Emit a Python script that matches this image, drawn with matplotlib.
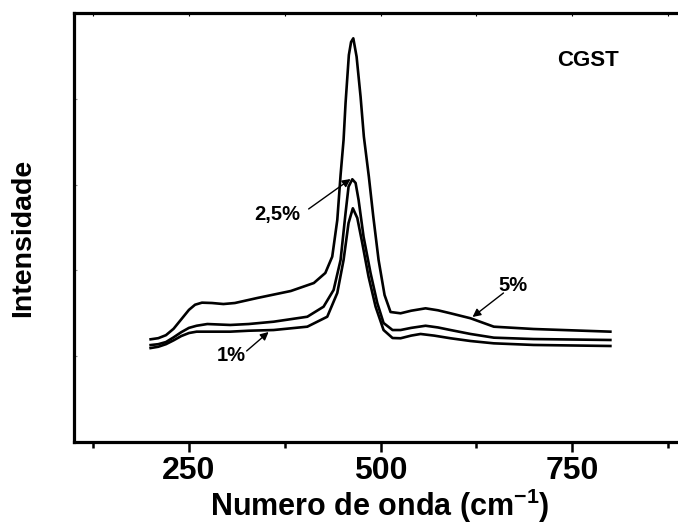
import matplotlib
matplotlib.use("Agg")
import matplotlib.pyplot as plt
from matplotlib import font_manager as fm

# ---------------- data ----------------
x_5 = [200, 210, 220, 230, 240, 250, 258, 267, 280, 295, 310, 339, 383, 413,
       428, 437, 443.6, 447.9, 451.8, 454.4, 458.7, 461.6, 464.5, 468.8, 474.0,
       478.3, 484.8, 490.6, 497.5, 505.3, 513.1, 526.2, 540, 558.8, 575, 591.4,
       617.5, 647.9, 699.7, 800]
y_5 = [1.197, 1.210, 1.245, 1.320, 1.430, 1.540, 1.600, 1.624, 1.620, 1.608,
       1.620, 1.678, 1.760, 1.853, 1.970, 2.160, 2.587, 3.112, 3.520, 3.951,
       4.510, 4.662, 4.705, 4.491, 4.024, 3.558, 3.092, 2.626, 2.121, 1.713,
       1.515, 1.500, 1.530, 1.558, 1.535, 1.500, 1.442, 1.344, 1.317, 1.286]

x_25 = [200, 210, 220, 230, 240, 250, 260, 274, 304, 328, 360.5, 404.5, 425.7,
        438.8, 447.9, 454.4, 458.3, 463.2, 467.5, 471.4, 477.9, 487.0, 495.8,
        504.0, 515.7, 526.2, 540, 558.8, 575, 591.4, 617.5, 647.9, 699.7, 800]
y_25 = [1.130, 1.140, 1.165, 1.220, 1.280, 1.330, 1.355, 1.375, 1.364, 1.375,
        1.402, 1.460, 1.577, 1.772, 2.121, 2.669, 2.976, 3.062, 3.019, 2.821,
        2.393, 1.970, 1.620, 1.387, 1.305, 1.305, 1.330, 1.355, 1.335, 1.305,
        1.259, 1.216, 1.200, 1.189]

x_1 = [200, 210, 220, 230, 240, 250, 260, 304, 328, 360.5, 404.5, 430.5, 443.6,
       451.8, 458.3, 463.9, 469.7, 476.2, 484.4, 493.6, 504.0, 515.7, 526.2,
       540, 552.3, 570, 591.4, 617.5, 647.8, 699.7, 800]
y_1 = [1.095, 1.110, 1.140, 1.185, 1.235, 1.270, 1.286, 1.286, 1.297, 1.305,
       1.344, 1.460, 1.737, 2.121, 2.552, 2.724, 2.611, 2.319, 1.927, 1.577,
       1.305, 1.212, 1.209, 1.240, 1.259, 1.240, 1.209, 1.177, 1.150, 1.131,
       1.119]

x_ticks = [250, 500, 750]
x_tick_labels = ["250", "500", "750"]

# ---------------- fonts ----------------
def has_font(name):
    try:
        fm.findfont(fm.FontProperties(family=name), fallback_to_default=False)
        return True
    except Exception:
        return False

if has_font("Liberation Sans Narrow"):
    NARROW, TICK_FS, XLAB_FS, ANN_FS = "Liberation Sans Narrow", 26, 25, 16
else:
    NARROW, TICK_FS, XLAB_FS, ANN_FS = "Liberation Sans", 23, 22, 14.5
WIDE = "Liberation Sans"

plt.rcParams["mathtext.fontset"] = "custom"
plt.rcParams["mathtext.rm"] = NARROW
plt.rcParams["mathtext.bf"] = NARROW + ":bold"

# ---------------- figure ----------------
fig = plt.figure(figsize=(6.78, 5.25), dpi=100)
ax = fig.add_axes([74 / 678, (525 - 442) / 525, (687 - 74) / 678, (442 - 13) / 525])

for xs, ys in [(x_5, y_5), (x_25, y_25), (x_1, y_1)]:
    ax.plot(xs, ys, color="black", lw=1.9, solid_joinstyle="round")

ax.set_xlim(100, 900)
ax.set_ylim(0, 5)

for s in ax.spines.values():
    s.set_linewidth(2.3)

ax.set_xticks(x_ticks)
ax.set_xticks([125, 375, 625, 875], minor=True)
ax.set_xticklabels(x_tick_labels, fontfamily=NARROW, fontweight="bold", fontsize=TICK_FS)
ax.tick_params(axis="x", which="major", direction="out", length=7, width=1.8, pad=3)
ax.tick_params(axis="x", which="minor", direction="out", length=4, width=1.8)
ax.tick_params(axis="x", which="both", top=True)
ax.set_yticks([1, 2, 3, 4])
ax.set_yticklabels([])
ax.tick_params(axis="y", which="major", direction="in", length=2, width=0.8, color="0.55")

# top ticks drawn inward, faint
for t in ax.xaxis.get_major_ticks() + ax.xaxis.get_minor_ticks():
    t.tick2line.set_marker(3)
    t.tick2line.set_markersize(2)
    t.tick2line.set_color("0.55")
    t.tick2line.set_markeredgewidth(0.8)

fig.text(380 / 678, (525 - 516) / 525, "Numero de onda (cm$^{\\mathbf{-1}}$)",
         ha="center", va="baseline", fontfamily=NARROW, fontweight="bold",
         fontsize=XLAB_FS)
fig.text(23 / 678, 1 - 238 / 525, "Intensidade", rotation=90, ha="center", va="center",
         fontfamily=WIDE, fontweight="bold", fontsize=20.5)

ax.text(771.4, 4.452, "CGST", ha="center", va="center", fontfamily=WIDE,
        fontweight="bold", fontsize=16)

lab_kw = dict(ha="center", va="center", fontfamily=NARROW, fontweight="bold",
              fontsize=ANN_FS)
ax.text(365.1, 2.657, "2,5%", **lab_kw)
ax.text(305.0, 1.008, "1%", **lab_kw)
ax.text(672.9, 1.824, "5%", **lab_kw)

arrow_kw = dict(arrowstyle="-|>", lw=1.0, color="black", mutation_scale=12,
                shrinkA=0, shrinkB=0)
ax.annotate("", xy=(460.9, 3.065), xytext=(406.2, 2.716), arrowprops=arrow_kw)
ax.annotate("", xy=(354.0, 1.282), xytext=(325.3, 1.061), arrowprops=arrow_kw)
ax.annotate("", xy=(620.1, 1.457), xytext=(660.5, 1.737), arrowprops=arrow_kw)

fig.savefig("out.png", dpi=100)
